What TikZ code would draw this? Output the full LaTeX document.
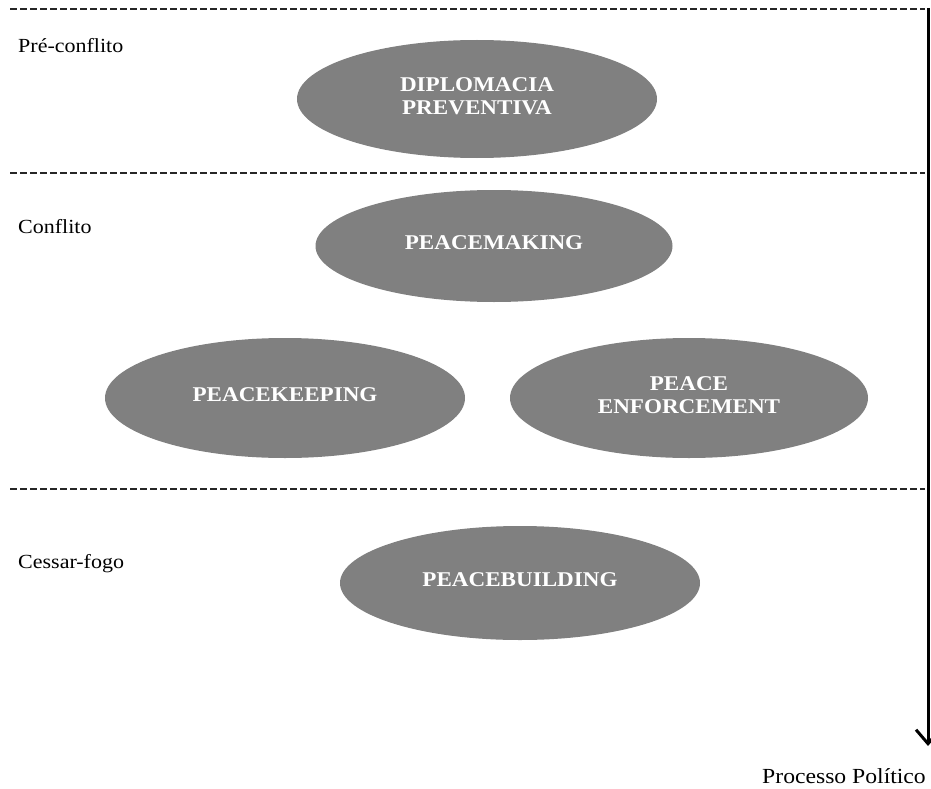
\documentclass[tikz,border=0pt]{standalone}
\usepackage{fontspec}
\setmainfont{Liberation Serif}[FakeStretch=1.1]
\usepackage{tikz}
\usetikzlibrary{arrows,arrows.meta,positioning,shapes}

\begin{document}
\begin{tikzpicture}[x=1pt,y=-1pt,
  phase/.style={draw=black!85,line width=1.2pt,dash pattern=on 7pt off 3pt},
  stage/.style={ellipse,fill=black!50,minimum width=360pt,minimum height=118pt,
    text=white,align=center,inner sep=0pt,font=\fontsize{21}{23}\selectfont\bfseries},
  lbl/.style={anchor=base west,inner sep=0pt,font=\fontsize{20}{22}\selectfont}]
  \useasboundingbox (0,0) rectangle (931,789);

  % Phase lines
  \draw[phase] (10,9) -- (925,9);
  \draw[phase] (10,173) -- (925,173);
  \draw[phase] (10,489) -- (925,489);

  % Phase labels
  \node[lbl] (pre) at (18,53) {Pré-conflito};
  \node[lbl] (conf) at (18,233) {Conflito};
  \node[lbl] (cess) at (18,568) {Cessar-fogo};

  % Stages
  \node[stage] (diplo) at (477,99) {DIPLOMACIA\\ PREVENTIVA\\[-17pt]};
  \node[stage,minimum width=357pt,minimum height=112pt] (making) at (494,246) {PEACEMAKING\\[-17pt]};
  \node[stage,minimum height=120pt] (keeping) at (285,398) {PEACEKEEPING\\[-17pt]};
  \node[stage,minimum width=358pt,minimum height=120pt] (enforce) at (689,398) {PEACE\\ ENFORCEMENT\\[-17pt]};
  \node[stage,minimum height=114pt] (building) at (520,583) {PEACEBUILDING\\[-17pt]};

  % Political process
  \coordinate (top) at (928,8);
  \coordinate (bottom) at (928,746);
  \draw[line width=3pt,-{Straight Barb[length=14pt,width=24pt]}] (top) -- (bottom);
  \node[lbl,anchor=base east,font=\fontsize{21.5}{23}\selectfont] (proc) at (926,783) {Processo Político};
\end{tikzpicture}
\end{document}
